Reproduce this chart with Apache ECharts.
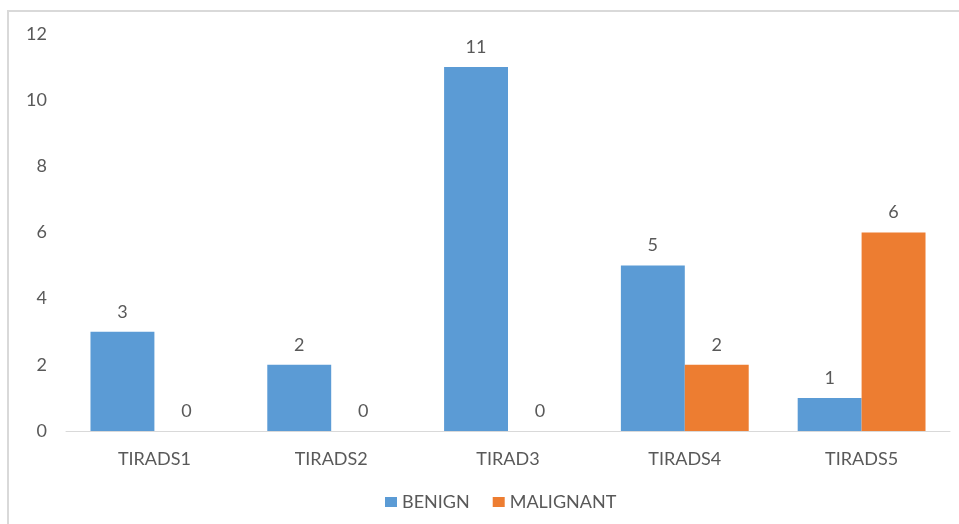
<!DOCTYPE html>
<html>
<head>
<meta charset="utf-8">
<script src="https://cdn.jsdelivr.net/npm/echarts@6/dist/echarts.min.js"></script>
<style>
html,body{margin:0;padding:0;background:#fff;}
#c{width:959px;height:524px;}
</style>
</head>
<body>
<div id="c"></div>
<script>
const categories = ['TIRADS1', 'TIRADS2', 'TIRAD3', 'TIRADS4', 'TIRADS5'];
const benign = [3, 2, 11, 5, 1];
const malignant = [0, 0, 0, 2, 6];
const seriesNames = ['BENIGN', 'MALIGNANT'];
const yTicks = { min: 0, max: 12, interval: 2 };

const font = 'Lato, "Open Sans", sans-serif';
const txt = '#595959';
const chart = echarts.init(document.getElementById('c'));
chart.setOption({
  animation: false,
  backgroundColor: '#fff',
  graphic: [{
    type: 'rect',
    shape: { x: 8, y: 11, width: 1000, height: 600 },
    style: { fill: 'none', stroke: '#d9d9d9', lineWidth: 2 },
    silent: true
  }],
  grid: { left: 66, right: 9, top: 34, bottom: 93 },
  legend: {
    data: seriesNames,
    bottom: 8,
    left: 380,
    itemWidth: 12,
    itemHeight: 10,
    itemGap: 23,
    icon: 'rect',
    textStyle: { color: txt, fontSize: 18, fontFamily: font }
  },
  xAxis: {
    type: 'category',
    data: categories,
    axisLine: { lineStyle: { color: '#d9d9d9', width: 1 } },
    axisTick: { show: false },
    axisLabel: { color: txt, fontSize: 18, fontFamily: font, margin: 19 }
  },
  yAxis: {
    type: 'value',
    min: yTicks.min, max: yTicks.max, interval: yTicks.interval,
    axisLine: { show: false },
    axisTick: { show: false },
    splitLine: { show: false },
    axisLabel: { color: txt, fontSize: 18, fontFamily: font, margin: 19 }
  },
  series: [
    {
      name: seriesNames[0], type: 'bar', data: benign,
      itemStyle: { color: '#5b9bd5' },
      barGap: '0%', barCategoryGap: '27.7%',
      label: { show: true, position: 'top', distance: 11, color: txt, fontSize: 18, fontFamily: font }
    },
    {
      name: seriesNames[1], type: 'bar', data: malignant,
      itemStyle: { color: '#ed7d31' },
      barGap: '0%', barCategoryGap: '27.7%',
      label: { show: true, position: 'top', distance: 11, color: txt, fontSize: 18, fontFamily: font }
    }
  ]
});
</script>
</body>
</html>
